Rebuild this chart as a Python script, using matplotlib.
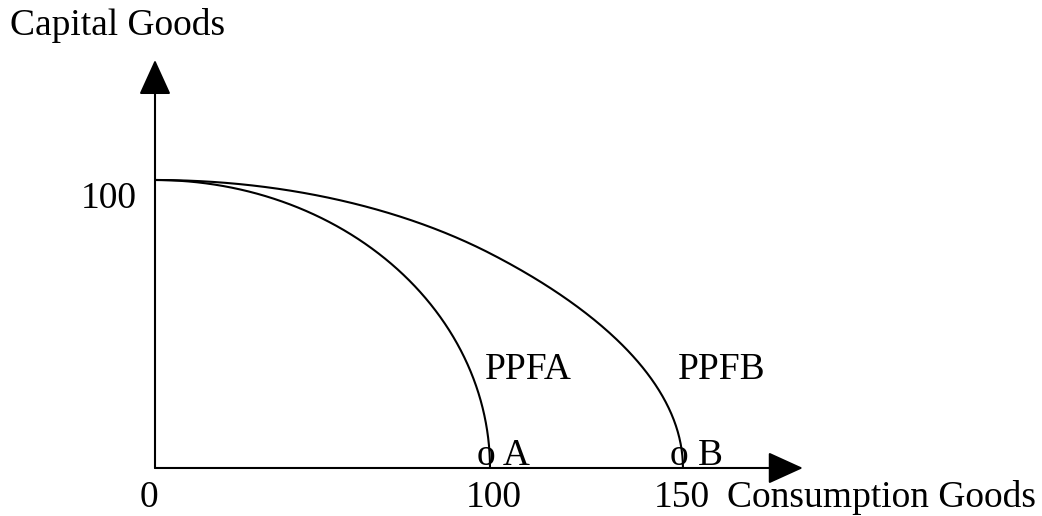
import numpy as np
import matplotlib
matplotlib.use('Agg')
import matplotlib.pyplot as plt
from matplotlib.scale import FuncScale

plt.rcParams['font.family'] = ['Liberation Serif', 'DejaVu Serif']

# Data (diagram units)
capital_max = 100          # both frontiers meet the y axis here
ppf_a_max = 100            # PPFA x intercept
ppf_b_max = 150            # PPFB x intercept
x_ticks = [0, 100, 150]
x_tick_labels = ['0', '100', '150']
curve_names = ['PPFA', 'PPFB']
point_names = ['A', 'B']

# the original drawing is not to scale past 100 on the x axis:
# smooth stretch after 100 so that 150 lands where it was drawn
c = 0.00304
def fwd(x):
    x = np.asarray(x, dtype=float)
    u = np.maximum(x - 100, 0)
    return x + c * u ** 2

def inv(y):
    y = np.asarray(y, dtype=float)
    v = np.maximum(y - 100, 0)
    u = (-1 + np.sqrt(1 + 4 * c * v)) / (2 * c)
    return np.where(y <= 100, y, 100 + u)

PX = 0.72  # pixels -> points at 100 dpi

fig = plt.figure(figsize=(10.42, 5.16), dpi=100)
ax = fig.add_axes([0, 0, 1, 1])
ax.set_xscale(FuncScale(ax.xaxis, (fwd, inv)))
ax.set_xlim(float(inv(-46.27)), float(inv(264.78)))
ax.set_ylim(-16.67, 162.5)
ax.axis('off')

# frontiers as quarter ellipses
t = np.linspace(0, np.pi / 2, 300)
for xmax in [ppf_a_max, ppf_b_max]:
    ax.plot(xmax * np.cos(t), capital_max * np.sin(t), color='black', lw=1.5,
            solid_capstyle='butt')

# axes with arrows
arrow = dict(arrowstyle='-|>,head_length=1.1,head_width=0.5', mutation_scale=20,
             lw=1.5, color='black', shrinkA=0, shrinkB=0)
ax.annotate('', xy=(0, 141.7), xytext=(0, 0), arrowprops=arrow)
ax.annotate('', xy=(float(inv(193.4)), 0), xytext=(0, 0), arrowprops=arrow)

fs = 27

# tick labels
tick_dx = [-6.5, 4, -1]
for xv, lab, dx in zip(x_ticks, x_tick_labels, tick_dx):
    ax.annotate(lab, xy=(xv, 0), xytext=(dx * PX, -39 * PX), textcoords='offset points',
                ha='center', va='baseline', fontsize=fs)
ax.annotate(str(capital_max), xy=(0, capital_max), xytext=(-18 * PX, -28 * PX),
            textcoords='offset points', ha='right', va='baseline', fontsize=fs)

# curve names and end points
for xmax, name, pt in zip([ppf_a_max, ppf_b_max], curve_names, point_names):
    ax.annotate(name, xy=(xmax, 0), xytext=(-5 * PX, 89 * PX), textcoords='offset points',
                ha='left', va='baseline', fontsize=fs)
    ax.annotate('o ' + pt, xy=(xmax, 0), xytext=(-13 * PX, 3 * PX), textcoords='offset points',
                ha='left', va='baseline', fontsize=fs)

# axis titles
fig.text(10 / 1042, 1 - 35 / 516, 'Capital Goods', ha='left', va='baseline', fontsize=fs)
ax.annotate('Consumption Goods', xy=(150, 0), xytext=((727 - 683) * PX, -39 * PX),
            textcoords='offset points', ha='left', va='baseline', fontsize=fs)

fig.savefig('out.png', dpi=100)
